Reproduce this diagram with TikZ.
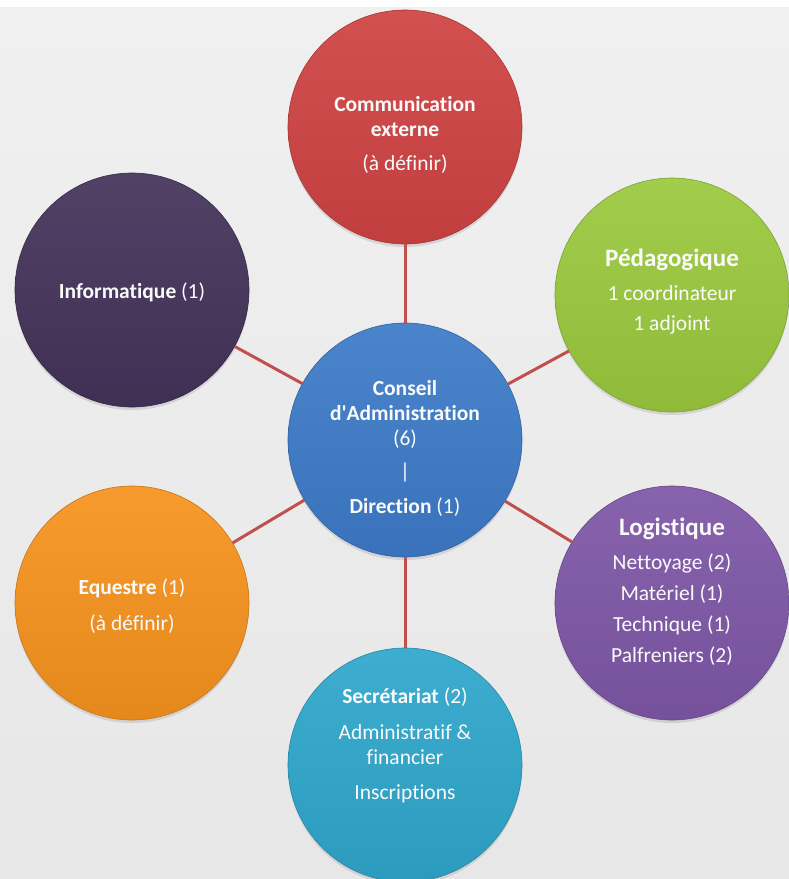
\documentclass[tikz,border=0pt]{standalone}
\usepackage{fontspec}
\setmainfont{Carlito}[Ligatures=NoCommon]
\usetikzlibrary{shadows}
\definecolor{bgtop}{HTML}{F0F0F0}
\definecolor{bgbot}{HTML}{E7E7E7}
\definecolor{linkred}{HTML}{C0504D}
\definecolor{cred}{HTML}{D04343}
\definecolor{cgreen}{HTML}{9BC93E}
\definecolor{cpurple}{HTML}{7F57A7}
\definecolor{cdark}{HTML}{44335A}
\definecolor{corange}{HTML}{F7931E}
\definecolor{ccyan}{HTML}{2FA7CC}
\definecolor{cblue}{HTML}{3D7BC8}
\tikzset{
  bubble/.style={circle, minimum size=234pt, inner sep=0pt,
    top color=#1!93!white, bottom color=#1!93!black, draw=#1!80!black, line width=0.6pt,
    drop shadow={opacity=0.22, shadow xshift=0pt, shadow yshift=-3pt}},
  txt/.style={align=center, text=white!96!gray, inner sep=0pt, font=\fontsize{21.5}{25}\selectfont},
  big/.style={font=\fontsize{25}{30}\selectfont},
  link/.style={draw=linkred, line width=3pt}
}
\begin{document}
\begin{tikzpicture}[x=1pt, y=-1pt]
\useasboundingbox (0,0) rectangle (789,879);
\shade[top color=bgtop, bottom color=bgbot] (0,0) rectangle (789,879);
\fill[white] (0,0) rectangle (789,7);

\node[bubble=cblue] (cad) at (405,440) {};
\node[bubble=cred] (com) at (405,127) {};
\node[bubble=cgreen] (ped) at (672,295) {};
\node[bubble=cpurple] (log) at (672,603) {};
\node[bubble=ccyan] (sec) at (405,765) {};
\node[bubble=corange] (equ) at (132,603) {};
\node[bubble=cdark] (inf) at (132,290) {};

\draw[link] (cad) -- (com);
\draw[link] (cad) -- (ped);
\draw[link] (cad) -- (log);
\draw[link] (cad) -- (sec);
\draw[link] (cad) -- (equ);
\draw[link] (cad) -- (inf);

\node[txt] (cadtxt) at (405,448)
  {\textbf{Conseil}\\\textbf{d\textquotesingle Administration}\\(6)\\[8pt]|\\[10pt]\textbf{Direction} (1)};
\node[txt] (comtxt) at (405,135)
  {\textbf{Communication}\\\textbf{externe}\\[9pt](à définir)};
\node[txt] (pedtxt) at (672,292)
  {{\fontsize{25}{30}\selectfont\textbf{Pédagogique}}\\[9pt]1 coordinateur\\[5pt]1 adjoint};
\node[txt] (logtxt) at (672,592)
  {{\fontsize{25}{30}\selectfont\textbf{Logistique}}\\[9pt]Nettoyage (2)\\[6pt]Matériel (1)\\[6pt]Technique (1)\\[6pt]Palfreniers (2)};
\node[txt] (sectxt) at (405,745)
  {\textbf{Secrétariat} (2)\\[11pt]Administratif \&\\financier\\[10pt]Inscriptions};
\node[txt] (equtxt) at (132,606)
  {\textbf{Equestre} (1)\\[11pt](à définir)};
\node[txt] (inftxt) at (132,292)
  {\textbf{Informatique} (1)};
\end{tikzpicture}
\end{document}
